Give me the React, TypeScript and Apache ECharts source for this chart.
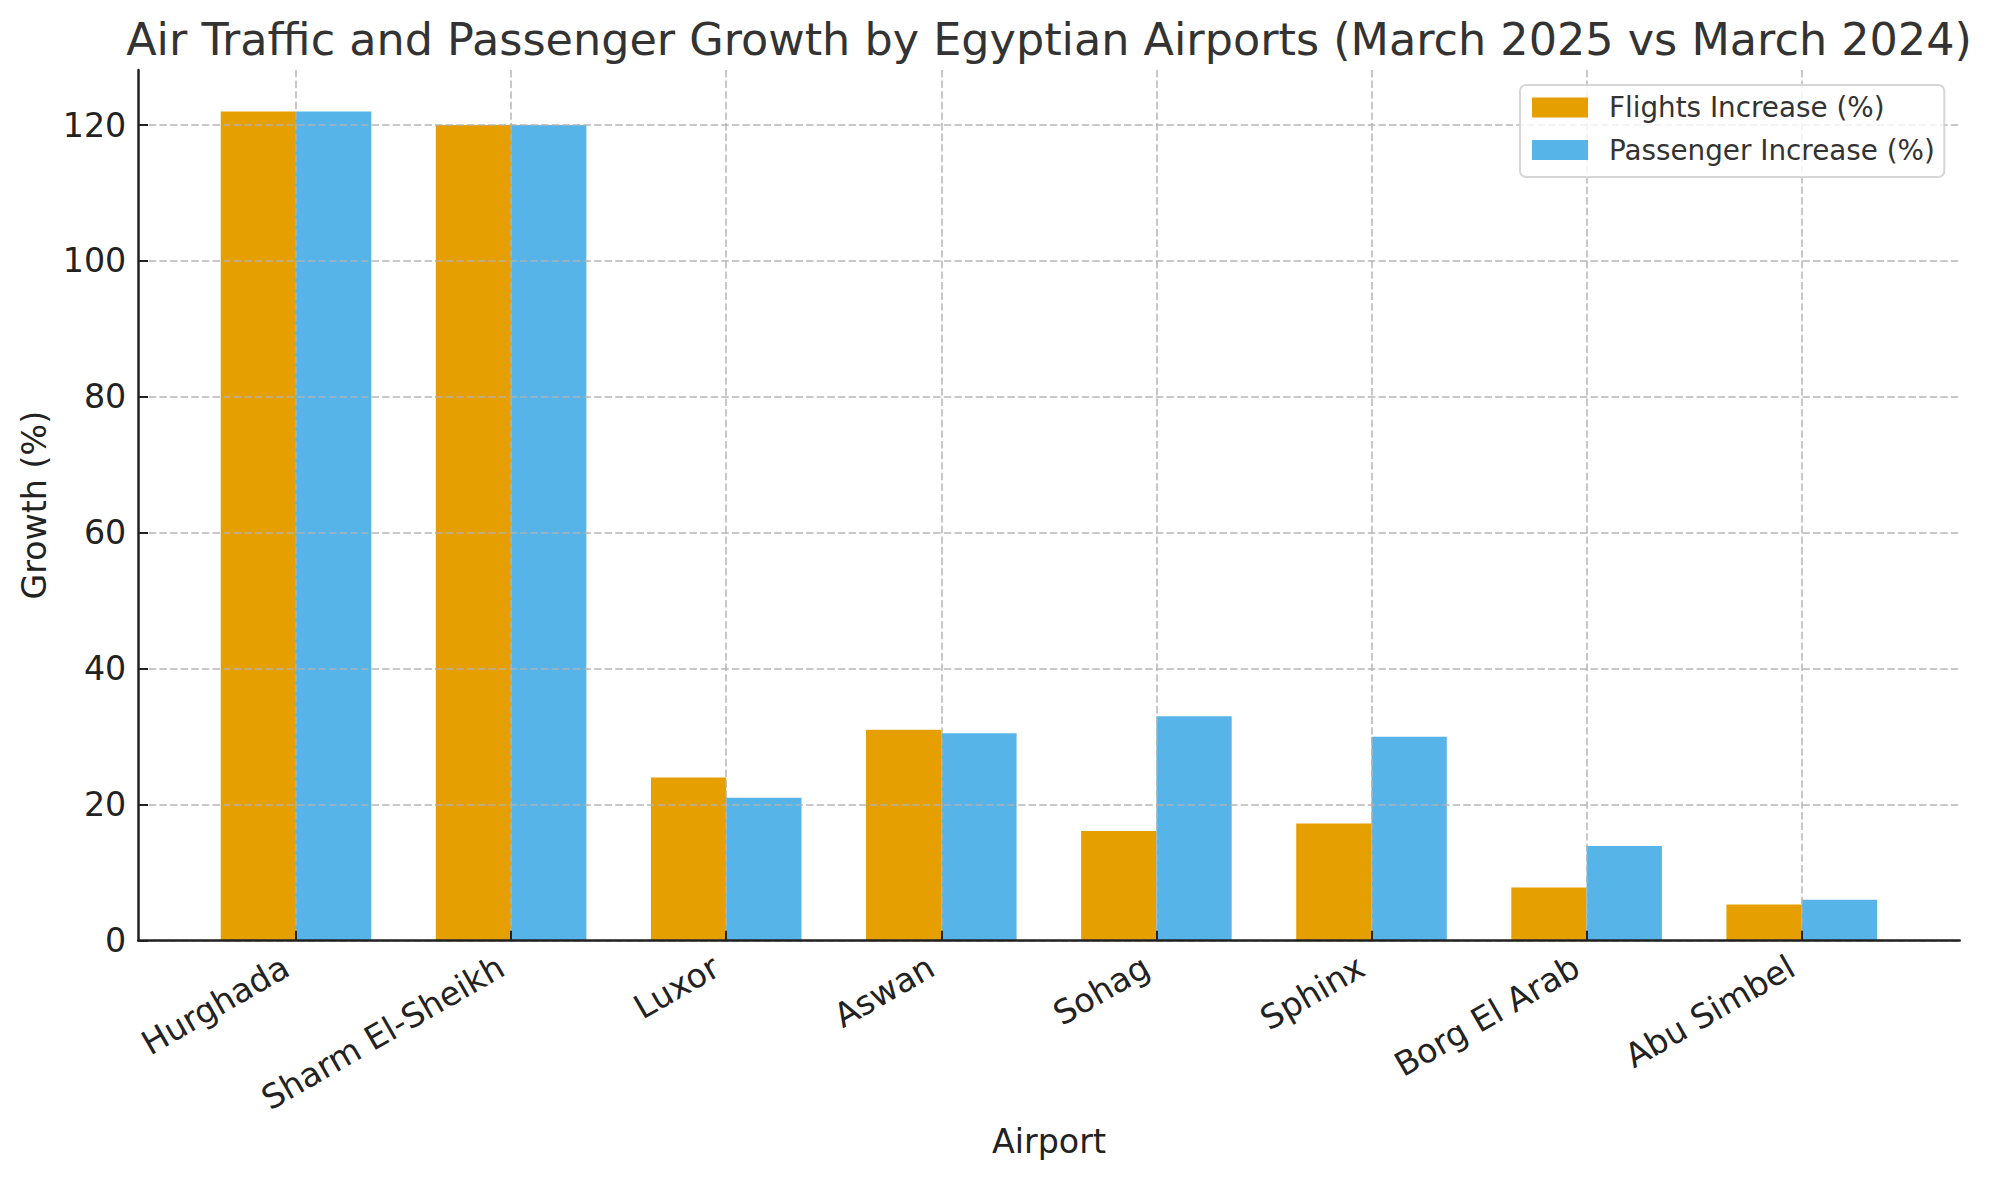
import React, { useEffect, useRef } from "react";
import * as echarts from "echarts";

// ---------- data ----------
const airports = [
  "Hurghada",
  "Sharm El-Sheikh",
  "Luxor",
  "Aswan",
  "Sohag",
  "Sphinx",
  "Borg El Arab",
  "Abu Simbel",
];
const flightsIncrease = [122, 120, 24, 31, 16.1, 17.2, 7.8, 5.3];
const passengerIncrease = [122, 120, 21, 30.5, 33, 30, 13.9, 6];
const yTicks = [0, 20, 40, 60, 80, 100, 120];
const seriesNames = ["Flights Increase (%)", "Passenger Increase (%)"];
const chartTitle =
  "Air Traffic and Passenger Growth by Egyptian Airports (March 2025 vs March 2024)";
const xAxisTitle = "Airport";
const yAxisTitle = "Growth (%)";

// ---------- layout / style ----------
const W = 1991;
const H = 1180;
const FONT = '"DejaVu Sans", sans-serif';
const plotLeft = 138.3;
const plotRight = 1959.7;
const plotTop = 70;
const plotBottom = 940.5;
const step = 215.1;
const firstCenter = 296;
const yMax = 128.1;
const pxPerUnit = (plotBottom - plotTop) / yMax;
const yTopTickVal = yTicks[yTicks.length - 1];
const yTopTickPx = plotBottom - yTopTickVal * pxPerUnit;

const gridLine = {
  show: true,
  lineStyle: { color: "rgba(176,176,176,0.7)", width: 2, type: [7.4, 3.2] },
};
const tickStyle = { color: "#222222", width: 2 };
const spine = { show: true, lineStyle: { color: "#222222", width: 2.5 } };

function buildOption() {
  const plotH = plotBottom - plotTop;
  return {
    animation: false,
    backgroundColor: "#ffffff",
    grid: [
      { left: plotLeft, top: plotTop, width: plotRight - plotLeft, height: plotH, outerBoundsMode: "none" },
      { left: firstCenter - step / 2, top: plotTop, width: step * airports.length, height: plotH, outerBoundsMode: "none" },
      { left: firstCenter, top: plotTop, width: step * (airports.length - 1), height: plotH, outerBoundsMode: "none" },
      { left: plotLeft, top: yTopTickPx, width: plotRight - plotLeft, height: plotBottom - yTopTickPx, outerBoundsMode: "none" },
    ],
    xAxis: [
      {
        gridIndex: 0, type: "value", min: 0, max: 1, z: 6,
        axisLine: spine, axisTick: { show: false }, axisLabel: { show: false }, splitLine: { show: false },
      },
      { gridIndex: 1, type: "category", data: airports, show: false, splitLine: { show: false } },
      {
        gridIndex: 2, type: "value", min: 0, max: airports.length - 1, interval: 1, z: 5,
        axisLine: { show: false },
        axisTick: { show: true, inside: true, length: 9.7, lineStyle: tickStyle },
        axisLabel: {
          show: true,
          rotate: 30,
          margin: 18,
          padding: [0, 11.5, 0, 0],
          fontSize: 33.3,
          fontFamily: FONT,
          color: "#222222",
          formatter: (v: number) => airports[Math.round(v)] ?? "",
        },
        splitLine: gridLine,
      },
      { gridIndex: 3, type: "value", min: 0, max: 1, show: false, splitLine: { show: false } },
    ],
    yAxis: [
      {
        gridIndex: 0, type: "value", min: 0, max: 1, z: 6,
        axisLine: spine, axisTick: { show: false }, axisLabel: { show: false }, splitLine: { show: false },
      },
      { gridIndex: 1, type: "value", min: 0, max: yMax, show: false, splitLine: { show: false } },
      { gridIndex: 2, type: "value", min: 0, max: 1, show: false, splitLine: { show: false } },
      {
        gridIndex: 3, type: "value", min: yTicks[0], max: yTopTickVal, interval: yTicks[1] - yTicks[0], z: 5,
        axisLine: { show: false },
        axisTick: { show: true, inside: true, length: 9.7, lineStyle: tickStyle },
        axisLabel: { show: true, margin: 12, fontSize: 33.3, fontFamily: FONT, color: "#222222" },
        splitLine: gridLine,
      },
    ],
    legend: {
      orient: "vertical",
      left: 1520,
      top: 85,
      z: 10,
      itemWidth: 56,
      itemHeight: 20,
      itemGap: 14.5,
      icon: "rect",
      padding: [8.5, 9.5, 13, 12],
      backgroundColor: "rgba(255,255,255,0.8)",
      borderColor: "#d6d6d6",
      borderWidth: 2,
      borderRadius: 6,
      selectedMode: false,
      data: seriesNames,
      textStyle: {
        fontSize: 27.8,
        fontFamily: FONT,
        color: "#333333",
        lineHeight: 28,
        padding: [0, 0, 0, 16],
      },
    },
    series: [
      {
        type: "bar",
        name: seriesNames[0],
        xAxisIndex: 1,
        yAxisIndex: 1,
        data: flightsIncrease,
        barWidth: step * 0.35,
        barGap: "0%",
        itemStyle: { color: "#E69F00" },
        z: 2,
      },
      {
        type: "bar",
        name: seriesNames[1],
        xAxisIndex: 1,
        yAxisIndex: 1,
        data: passengerIncrease,
        barWidth: step * 0.35,
        barGap: "0%",
        itemStyle: { color: "#56B4E9" },
        z: 2,
      },
    ],
    graphic: [
      {
        type: "text",
        x: (plotLeft + plotRight) / 2,
        y: 39.5,
        style: {
          text: chartTitle,
          fontSize: 44.5,
          fontFamily: FONT,
          fill: "#333333",
          align: "center",
          verticalAlign: "middle",
        },
      },
      {
        type: "text",
        x: (plotLeft + plotRight) / 2,
        y: 1141,
        style: {
          text: xAxisTitle,
          fontSize: 33.3,
          fontFamily: FONT,
          fill: "#222222",
          align: "center",
          verticalAlign: "middle",
        },
      },
      {
        type: "text",
        x: 34,
        y: (plotTop + plotBottom) / 2,
        rotation: Math.PI / 2,
        style: {
          text: yAxisTitle,
          fontSize: 33.3,
          fontFamily: FONT,
          fill: "#222222",
          align: "center",
          verticalAlign: "middle",
        },
      },
    ],
  };
}

export default function App() {
  const ref = useRef<HTMLDivElement>(null);
  useEffect(() => {
    if (!ref.current) return;
    const chart = echarts.init(ref.current, null, { renderer: "svg", width: W, height: H });
    chart.setOption(buildOption() as any);
    return () => chart.dispose();
  }, []);
  return (
    <div
      ref={ref}
      style={{ position: "fixed", left: 0, top: 0, width: W + "px", height: H + "px", background: "#fff" }}
    />
  );
}
